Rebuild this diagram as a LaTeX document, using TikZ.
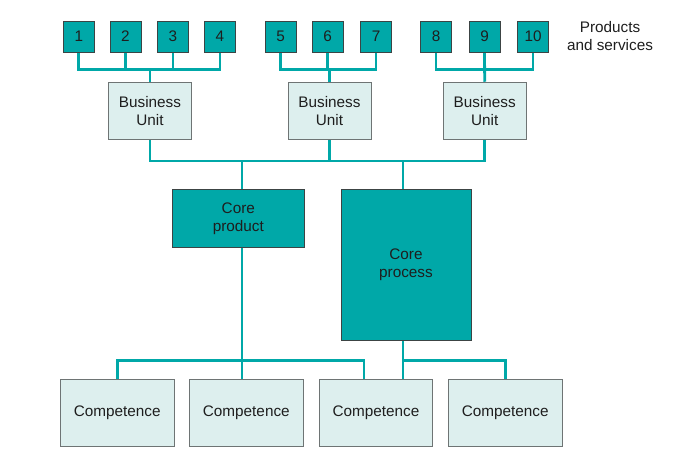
\documentclass[tikz,border=0pt]{standalone}
\usepackage{fontspec}
\setmainfont{Liberation Sans}
\usetikzlibrary{backgrounds}
\definecolor{tealA}{HTML}{00A8A8}
\definecolor{lightA}{HTML}{DDEFEE}
\definecolor{edgeA}{HTML}{3C4444}
\definecolor{edgeB}{HTML}{6E7474}
\definecolor{txtA}{HTML}{1E1E1E}
\begin{document}
\begin{tikzpicture}[x=1pt,y=-1pt,
  conn/.style={draw=tealA, line width=2.8pt},
  lbl/.style={font=\fontsize{15.3}{18.3}\selectfont, text=txtA, align=center},
  pbox/.style={lbl, draw=edgeA, fill=tealA, minimum width=31pt, minimum height=31pt, inner sep=0pt, line width=0.9pt},
  bubox/.style={lbl, draw=edgeB, fill=lightA, minimum width=83pt, minimum height=57pt, inner sep=0pt, line width=0.9pt},
  corebox/.style={lbl, draw=edgeA, fill=tealA, inner sep=0pt, line width=0.9pt},
  compbox/.style={lbl, draw=edgeB, fill=lightA, minimum width=113.5pt, minimum height=67.5pt, inner sep=0pt, line width=0.9pt}
]
\useasboundingbox (0,0) rectangle (700,457);
% products
\node[pbox] (p1) at (78.8,36.5) {1};
\node[pbox] (p2) at (125.5,36.5) {2};
\node[pbox] (p3) at (173,36.5) {3};
\node[pbox] (p4) at (220,36.5) {4};
\node[pbox] (p5) at (280.5,36.5) {5};
\node[pbox] (p6) at (327.5,36.5) {6};
\node[pbox] (p7) at (376,36.5) {7};
\node[pbox] (p8) at (436,36.5) {8};
\node[pbox] (p9) at (484.5,36.5) {9};
\node[pbox] (p10) at (533,36.5) {10};
\node[lbl] (ps) at (610,36) {Products\\and services};
% business units
\node[bubox] (bu1) at (150,110.7) {Business\\Unit};
\node[bubox] (bu2) at (329.5,110.7) {Business\\Unit};
\node[bubox] (bu3) at (484.7,110.7) {Business\\Unit};
% core
\node[corebox, minimum width=132pt, minimum height=57.6pt] (cp) at (238.3,218.5) {Core\\product};
\node[corebox, minimum width=130pt, minimum height=150.6pt] (cpr) at (406,265) {Core\\process};
% competences
\node[compbox] (c1) at (117.2,412.8) {Competence};
\node[compbox] (c2) at (246.3,412.8) {Competence};
\node[compbox] (c3) at (376,412.8) {Competence};
\node[compbox] (c4) at (505.2,412.8) {Competence};
% junction coordinates
\coordinate (ja) at (150,69.3);
\coordinate (jb) at (329.5,69.3);
\coordinate (jc) at (484.5,69.3);
\coordinate (jm) at (0,161);
\coordinate (jl) at (242,360.5);
\coordinate (jr) at (403,360.5);
\begin{scope}[on background layer]
\draw[conn] (p1.south) |- (p4.south |- ja) -- (p4.south);
\draw[conn] (p2.south) -- (p2.south |- ja);
\draw[conn] (p3.south) -- (p3.south |- ja);
\draw[conn] (bu1.north) -- (ja);
\draw[conn] (p5.south) |- (p7.south |- jb) -- (p7.south);
\draw[conn] (p6.south) -- (p6.south |- jb);
\draw[conn] (bu2.north) -- (jb);
\draw[conn] (p8.south) |- (p10.south |- jc) -- (p10.south);
\draw[conn] (p9.south) -- (bu3.north);
\draw[conn] (bu1.south) |- (bu3.south |- jm) -- (bu3.south);
\draw[conn] (bu2.south) -- (bu2.south |- jm);
\draw[conn] (jl |- jm) -- (jl |- cp.north);
\draw[conn] (jr |- jm) -- (jr |- cpr.north);
\draw[conn] (jl |- cp.south) -- (jl |- c2.north);
\draw[conn] (c1.north) |- (jl) -| ([xshift=-12pt]c3.north);
\draw[conn] (jr |- cpr.south) -- (jr |- c3.north);
\draw[conn] (jr) -| (c4.north);
\end{scope}
\end{tikzpicture}
\end{document}
